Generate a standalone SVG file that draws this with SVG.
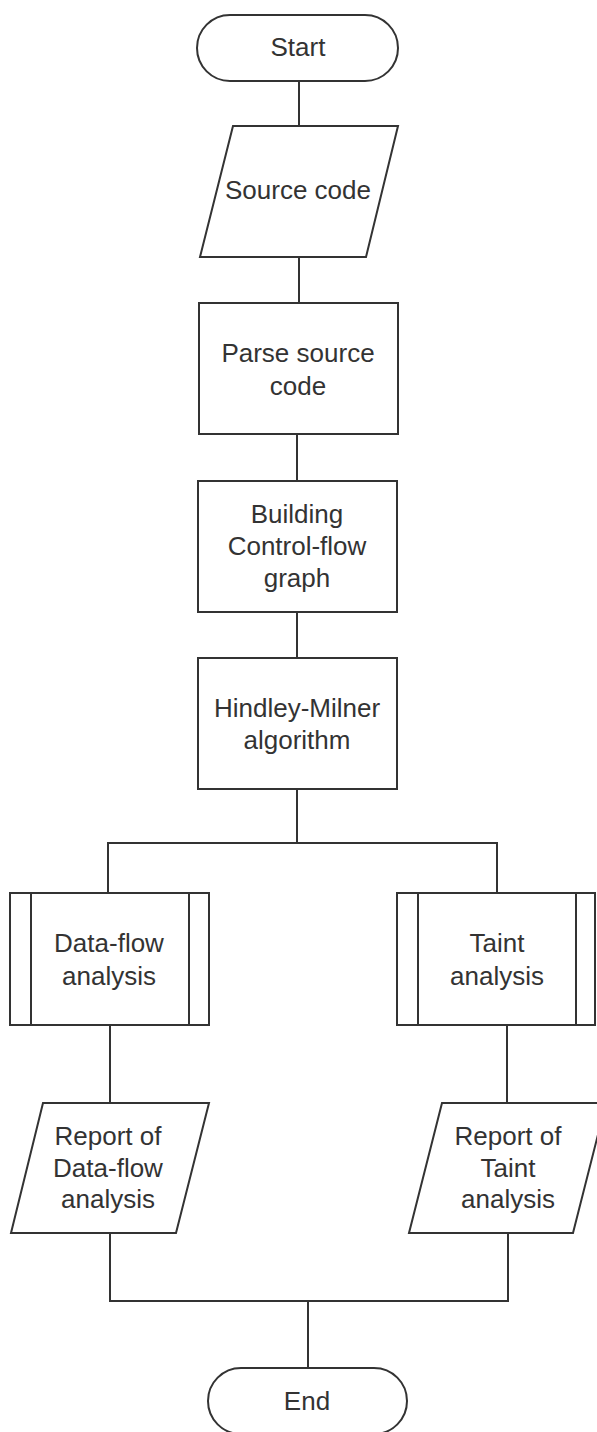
<svg xmlns="http://www.w3.org/2000/svg" width="597" height="1432" viewBox="0 0 597 1432">
<style>
.s{fill:#fff;stroke:#333;stroke-width:2}
.c{fill:none;stroke:#333;stroke-width:2}
text{font-family:"Liberation Sans",Arial,sans-serif;font-size:26px;fill:#333;text-anchor:middle}
</style>
<rect width="597" height="1432" fill="#fff"/>
<g id="connectors">
<line class="c" x1="299" y1="81" x2="299" y2="126"/>
<line class="c" x1="299" y1="257" x2="299" y2="303"/>
<line class="c" x1="297" y1="434" x2="297" y2="481"/>
<line class="c" x1="297" y1="612" x2="297" y2="658"/>
<polyline class="c" points="297,789 297,843"/>
<polyline class="c" points="108,893 108,843 497,843 497,893"/>
<line class="c" x1="110" y1="1025" x2="110" y2="1103"/>
<line class="c" x1="507" y1="1025" x2="507" y2="1103"/>
<polyline class="c" points="110,1233 110,1301 508,1301 508,1233"/>
<line class="c" x1="308" y1="1301" x2="308" y2="1368"/>
</g>
<g id="start">
<rect class="s" x="197" y="15" width="201" height="66" rx="33"/>
<text x="298" y="56">Start</text>
</g>
<g id="source">
<polygon class="s" points="233,126 398,126 366,257 200,257"/>
<text x="298" y="199">Source code</text>
</g>
<g id="parse">
<rect class="s" x="199" y="303" width="199" height="131"/>
<text x="298" y="362">Parse source</text>
<text x="298" y="395">code</text>
</g>
<g id="building">
<rect class="s" x="198" y="481" width="199" height="131"/>
<text x="297" y="523">Building</text>
<text x="297" y="555">Control-flow</text>
<text x="297" y="587">graph</text>
</g>
<g id="hindley">
<rect class="s" x="198" y="658" width="199" height="131"/>
<text x="297" y="717">Hindley-Milner</text>
<text x="297" y="749">algorithm</text>
</g>
<g id="dataflow">
<rect class="s" x="10" y="893" width="199" height="132"/>
<line class="c" x1="31" y1="893" x2="31" y2="1025"/>
<line class="c" x1="189" y1="893" x2="189" y2="1025"/>
<text x="109" y="952">Data-flow</text>
<text x="109" y="985">analysis</text>
</g>
<g id="taint">
<rect class="s" x="397" y="893" width="198" height="132"/>
<line class="c" x1="418" y1="893" x2="418" y2="1025"/>
<line class="c" x1="576" y1="893" x2="576" y2="1025"/>
<text x="497" y="952">Taint</text>
<text x="497" y="985">analysis</text>
</g>
<g id="report-dataflow">
<polygon class="s" points="43,1103 209,1103 176,1233 11,1233"/>
<text x="108" y="1145">Report of</text>
<text x="108" y="1177">Data-flow</text>
<text x="108" y="1208">analysis</text>
</g>
<g id="report-taint">
<polygon class="s" points="442,1103 606,1103 573,1233 409,1233"/>
<text x="508" y="1145">Report of</text>
<text x="508" y="1177">Taint</text>
<text x="508" y="1208">analysis</text>
</g>
<g id="end">
<rect class="s" x="208" y="1368" width="199" height="66" rx="33"/>
<text x="307" y="1410">End</text>
</g>
</svg>
